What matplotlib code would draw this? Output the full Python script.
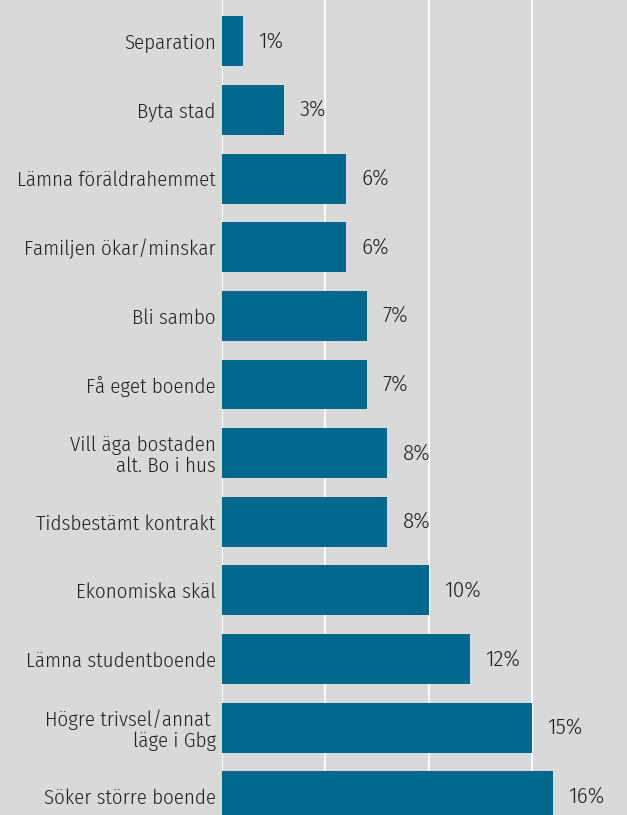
import matplotlib.pyplot as plt
from matplotlib import font_manager
from matplotlib.ticker import MultipleLocator

# Reasons for moving, share of respondents
reasons = [
    'Separation',
    'Byta stad',
    'Lämna föräldrahemmet',
    'Familjen ökar/minskar',
    'Bli sambo',
    'Få eget boende',
    'Vill äga bostaden\nalt. Bo i hus',
    'Tidsbestämt kontrakt',
    'Ekonomiska skäl',
    'Lämna studentboende',
    'Högre trivsel/annat \nläge i Gbg',
    'Söker större boende',
]
shares = [1, 3, 6, 6, 7, 7, 8, 8, 10, 12, 15, 16]

bg = '#d9d9d9'
bar_color = '#00688c'
text_color = '#222222'

# pick a condensed sans if one is around
installed = {f.name for f in font_manager.fontManager.ttflist}
candidates = ['Fira Sans Condensed', 'PT Sans Narrow', 'Roboto Condensed',
              'Encode Sans Condensed', 'Liberation Sans Narrow']
family = [c for c in candidates if c in installed][:1] + ['DejaVu Sans']
plt.rcParams['font.family'] = family
plt.rcParams['font.weight'] = 350

fig = plt.figure(figsize=(6.27, 8.15), dpi=100, facecolor=bg)
ax = fig.add_axes([222 / 627, 0, 1 - 222 / 627, 1], facecolor=bg)

pos = list(range(len(reasons)))
ax.barh(pos, shares, height=0.728, color=bar_color, zorder=3)

for y, v in zip(pos, shares):
    ax.annotate(f'{v}%', (v, y), xytext=(11, 0), textcoords='offset points',
                va='center', ha='left', fontsize=16.5, color=text_color)

ax.set_xlim(0, 19.6)
ax.set_ylim(11.27, -0.6)
ax.set_yticks(pos)
ax.set_yticklabels(reasons, fontsize=15, color=text_color, linespacing=1.1)
ax.tick_params(axis='y', length=0, pad=4.5)
ax.tick_params(axis='x', length=0, labelbottom=False)
ax.xaxis.set_major_locator(MultipleLocator(5))
ax.grid(axis='x', color='white', linewidth=1.3, zorder=0)
ax.axvline(0, color='white', linewidth=1.5, zorder=2)

for s in ax.spines.values():
    s.set_visible(False)

fig.savefig('out.png', dpi=100, facecolor=bg)
